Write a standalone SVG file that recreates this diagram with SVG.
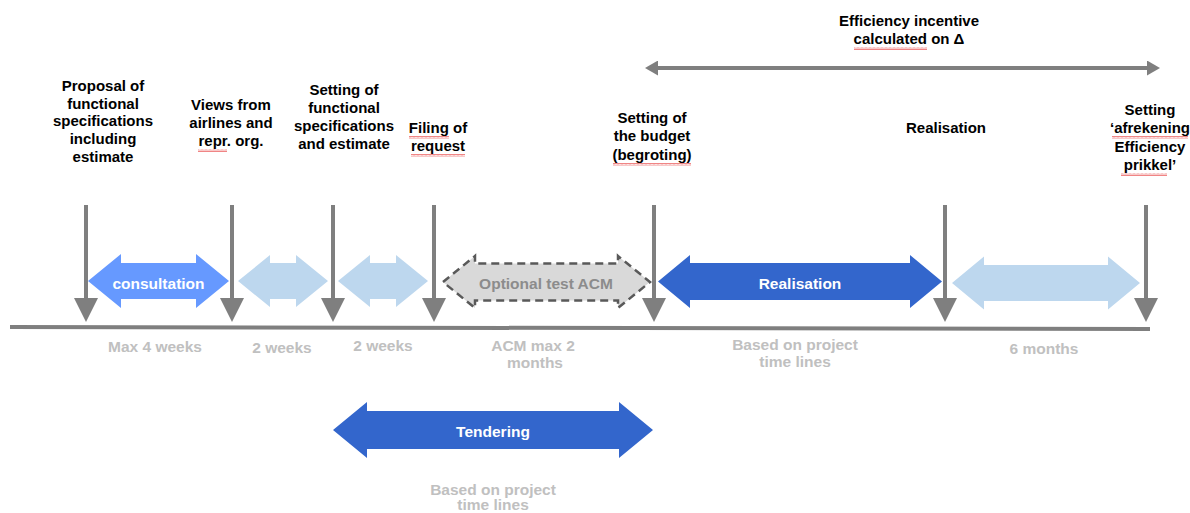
<svg xmlns="http://www.w3.org/2000/svg" width="1190" height="513" viewBox="0 0 1190 513">
<style>
text{font-family:"Liberation Sans",Arial,sans-serif;font-weight:bold;text-anchor:middle}
.lbl{font-size:15px;fill:#000}
.dur{font-size:15.5px;fill:#c0c0c0}
.in{font-size:15.5px;fill:#fff}
.vl{stroke:#7f7f7f;stroke-width:4;fill:none}
.dark{fill:#3366cc}
.mid{fill:#6699ff}
.light{fill:#bdd7ee}
.opt{fill:#d9d9d9;stroke:#595959;stroke-width:2.5;stroke-dasharray:8 5}
.sq{fill:url(#wave)}
</style>
<defs>
<marker id="ah" markerUnits="userSpaceOnUse" markerWidth="24" markerHeight="24" refX="2" refY="12" orient="auto">
<path d="M0,0 L24,12 L0,24 Z" fill="#7f7f7f"/>
</marker>
<marker id="ah2" markerUnits="userSpaceOnUse" markerWidth="13" markerHeight="15" refX="1" refY="7.5" orient="auto-start-reverse">
<path d="M0,0 L13,7.5 L0,15 Z" fill="#7f7f7f"/>
</marker>
<pattern id="wave" width="4" height="3" patternUnits="userSpaceOnUse">
<path d="M0,2.5 L1,0.5 L2,2.5 L3,0.5 L4,2.5" stroke="#ee7777" stroke-width="0.9" fill="none"/>
</pattern>
</defs>

<g id="phases">
<g id="phase-consultation">
<polygon class="mid" points="88,281 121,254 121,263 196,263 196,254 229,281 196,308 196,299 121,299 121,308"/>
<text class="in" x="158.5" y="288.5">consultation</text>
</g>
<g id="phase-views">
<polygon class="light" points="238,281 270,255 270,263 296,263 296,255 328,281 296,307 296,299 270,299 270,307"/>
</g>
<g id="phase-setting">
<polygon class="light" points="338,281 370,255 370,263 396,263 396,255 428,281 396,307 396,299 370,299 370,307"/>
</g>
<g id="phase-optional">
<polygon class="opt" points="443,282 475,256 475,263.5 618,263.5 618,256 650,282 618,308 618,300.5 475,300.5 475,308"/>
<text class="in" x="546" y="288.5" style="fill:#8c8c8c">Optional test ACM</text>
</g>
<g id="phase-realisation">
<polygon class="dark" points="658,281.5 690,255 690,263 910,263 910,255 942,281.5 910,308 910,300 690,300 690,308"/>
<text class="in" x="800" y="289">Realisation</text>
</g>
<g id="phase-settlement">
<polygon class="light" points="952,283 984,256.5 984,265 1108,265 1108,256.5 1140,283 1108,309.5 1108,301 984,301 984,309.5"/>
</g>
<g id="phase-tendering">
<polygon class="dark" points="333,430 367,402 367,411 619,411 619,402 653,430 619,458 619,449 367,449 367,458"/>
<text class="in" x="493" y="437">Tendering</text>
</g>
</g>

<g id="connectors">
<line class="vl" x1="10" y1="327" x2="1150" y2="329"/>
<line class="vl" x1="86" y1="205" x2="86" y2="300" marker-end="url(#ah)"/>
<line class="vl" x1="232" y1="205" x2="232" y2="300" marker-end="url(#ah)"/>
<line class="vl" x1="333" y1="205" x2="333" y2="300" marker-end="url(#ah)"/>
<line class="vl" x1="434" y1="205" x2="434" y2="300" marker-end="url(#ah)"/>
<line class="vl" x1="654" y1="205" x2="654" y2="300" marker-end="url(#ah)"/>
<line class="vl" x1="945" y1="205" x2="945" y2="300" marker-end="url(#ah)"/>
<line class="vl" x1="1146" y1="205" x2="1146" y2="300" marker-end="url(#ah)"/>
<line class="vl" x1="657" y1="68" x2="1148" y2="68" marker-start="url(#ah2)" marker-end="url(#ah2)"/>
</g>

<g id="milestone-proposal">
<text class="lbl" x="103" y="91">Proposal of</text>
<text class="lbl" x="103" y="108.7">functional</text>
<text class="lbl" x="103" y="126.4">specifications</text>
<text class="lbl" x="103" y="144.1">including</text>
<text class="lbl" x="103" y="161.8">estimate</text>
</g>
<g id="milestone-views">
<text class="lbl" x="231" y="110">Views from</text>
<text class="lbl" x="231" y="128">airlines and</text>
<text class="lbl" x="231" y="146">repr. org.</text>
<rect class="sq" x="198" y="149" width="29" height="3"/>
</g>
<g id="milestone-setting">
<text class="lbl" x="344" y="94.5">Setting of</text>
<text class="lbl" x="344" y="112.5">functional</text>
<text class="lbl" x="344" y="130.5">specifications</text>
<text class="lbl" x="344" y="148.5">and estimate</text>
</g>
<g id="milestone-filing">
<text class="lbl" x="438" y="133">Filing of</text>
<text class="lbl" x="438" y="151">request</text>
<rect class="sq" x="409" y="136" width="40" height="3"/>
<rect class="sq" x="411" y="154" width="54" height="3"/>
</g>
<g id="milestone-budget">
<text class="lbl" x="652" y="123">Setting of</text>
<text class="lbl" x="652" y="141">the budget</text>
<text class="lbl" x="652" y="160">(begroting)</text>
<rect class="sq" x="613" y="163" width="78" height="3"/>
</g>
<g id="milestone-realisation">
<text class="lbl" x="946" y="133">Realisation</text>
</g>
<g id="milestone-afrekening">
<text class="lbl" x="1150" y="115">Setting</text>
<text class="lbl" x="1150" y="133">‘afrekening</text>
<text class="lbl" x="1150" y="152">Efficiency</text>
<text class="lbl" x="1150" y="170">prikkel’</text>
<rect class="sq" x="1112" y="136" width="76" height="3"/>
<rect class="sq" x="1121" y="173" width="46" height="3"/>
</g>
<g id="efficiency-incentive">
<text class="lbl" x="909" y="26">Efficiency incentive</text>
<text class="lbl" x="909" y="44">calculated on Δ</text>
<rect class="sq" x="854" y="47" width="73" height="3"/>
</g>

<g id="durations">
<text class="dur" x="155" y="352">Max 4 weeks</text>
<text class="dur" x="282" y="353">2 weeks</text>
<text class="dur" x="383" y="351">2 weeks</text>
<text class="dur" x="533" y="351">ACM max 2</text>
<text class="dur" x="535" y="368">months</text>
<text class="dur" x="795" y="350">Based on project</text>
<text class="dur" x="795" y="367">time lines</text>
<text class="dur" x="1044" y="354">6 months</text>
<text class="dur" x="493" y="495">Based on project</text>
<text class="dur" x="493" y="510">time lines</text>
</g>
</svg>
